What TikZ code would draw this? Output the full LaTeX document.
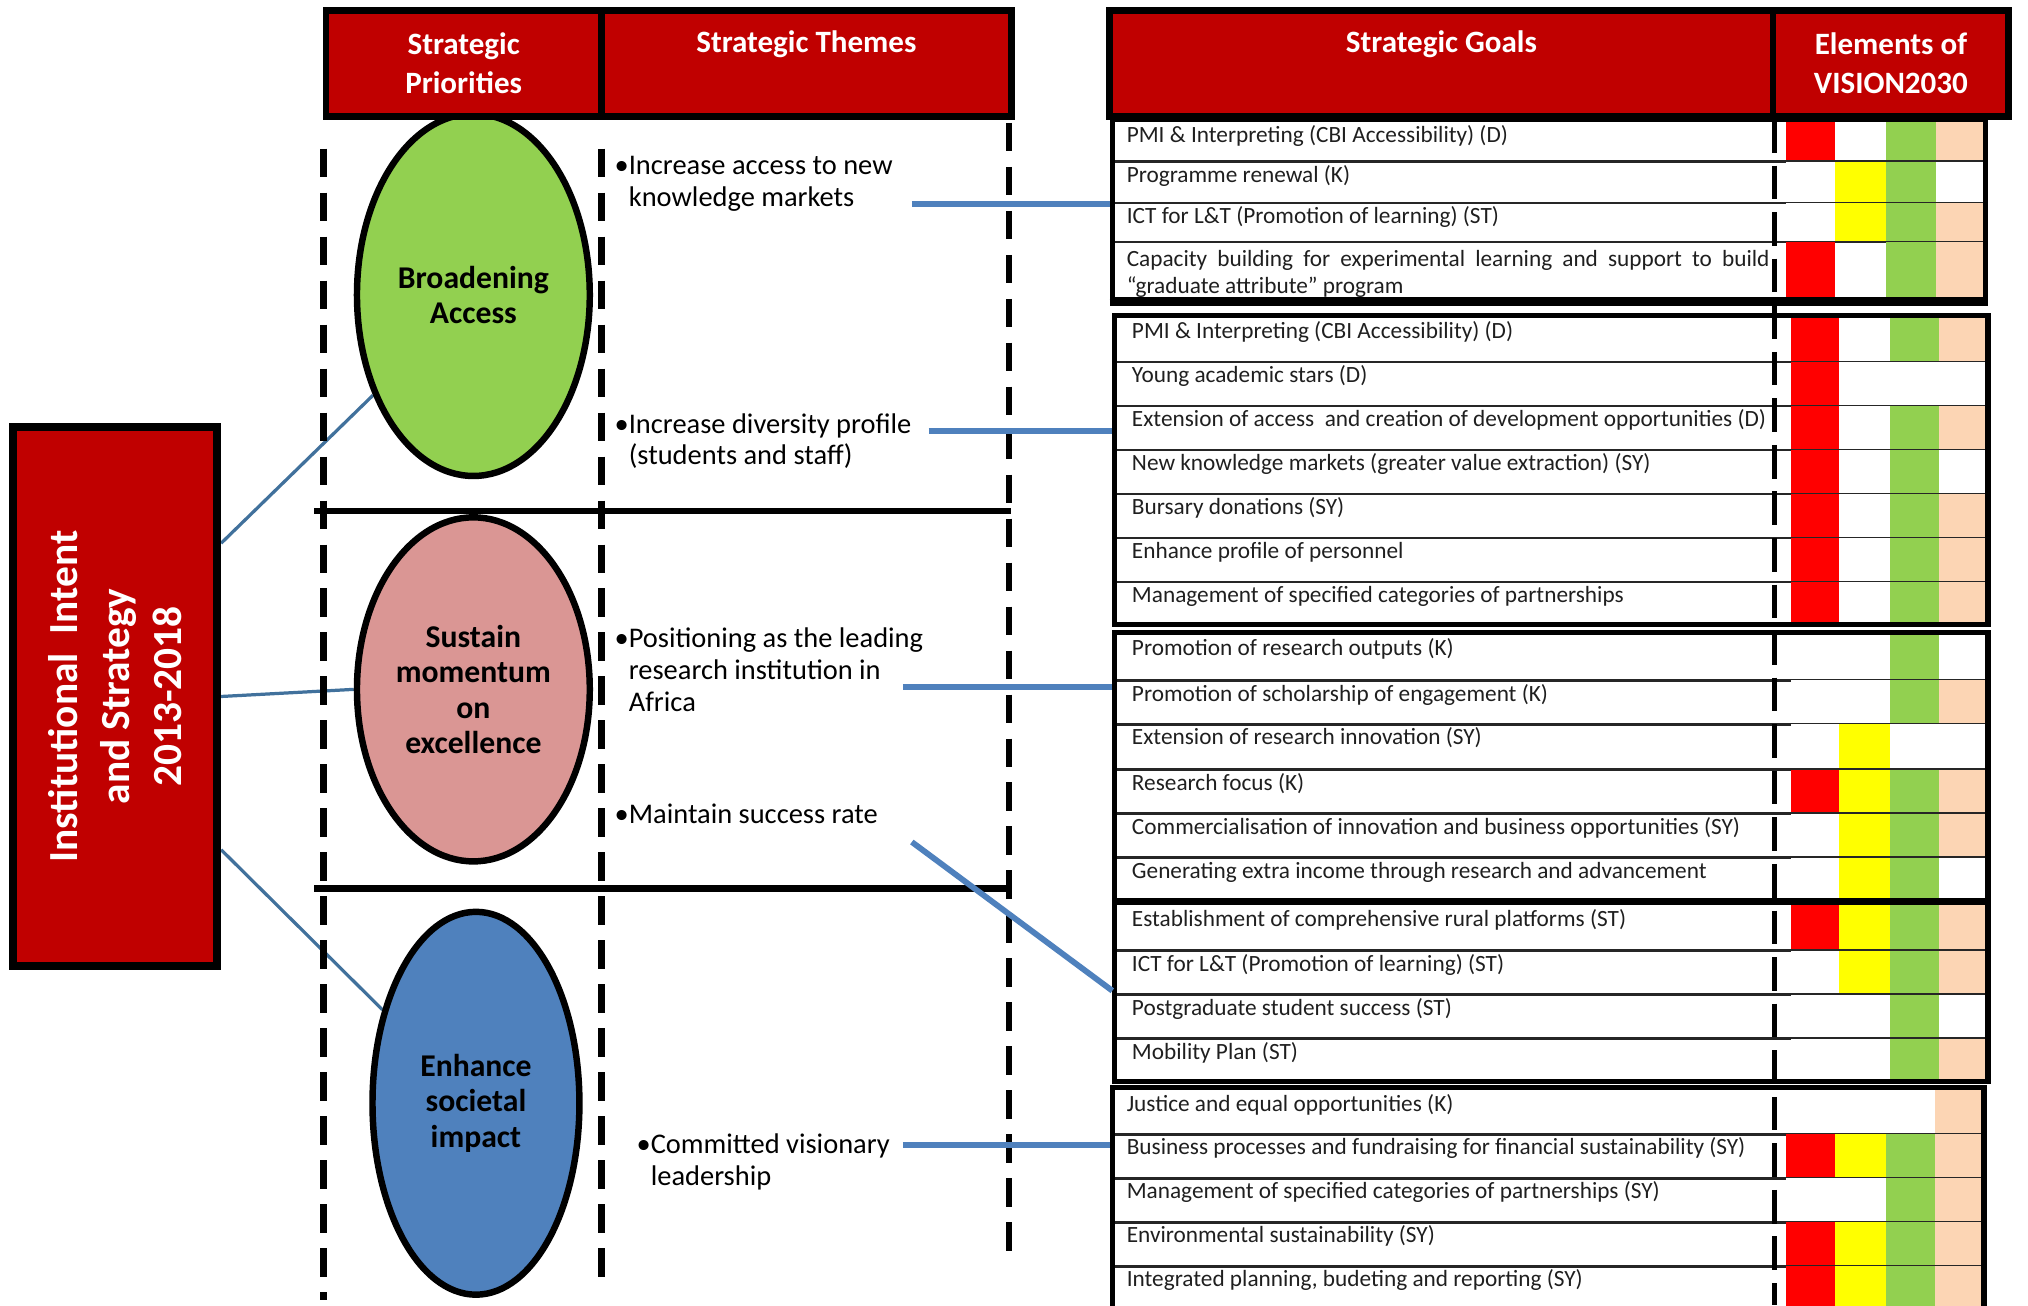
\documentclass[tikz,border=0pt]{standalone}
\usepackage{fontspec}
\setmainfont{Carlito}
\usetikzlibrary{shapes.geometric,calc,backgrounds}
\definecolor{hdrred}{HTML}{C00000}
\definecolor{cR}{HTML}{FF0000}
\definecolor{cY}{HTML}{FFFF00}
\definecolor{cG}{HTML}{92D050}
\definecolor{cP}{HTML}{FCD5B4}
\definecolor{cW}{HTML}{FFFFFF}
\definecolor{ellpink}{HTML}{DA9694}
\definecolor{ellblue}{HTML}{4F81BD}
\definecolor{linkblue}{HTML}{4F81BD}
\definecolor{thinblue}{HTML}{41719C}
\newcommand\Bul{\makebox[11pt][l]{•}}
\newcommand\Ind{\hspace*{11pt}}
\newcommand\ThemeText[1]{\parbox[t]{330pt}{\raggedright\fontsize{22}{24.5}\selectfont #1}}
\newcommand\GoalRow[8]{%
  \fill[#4] (\GXa,#2) rectangle (\GXb,#3);
  \fill[#5] (\GXb,#2) rectangle (\GXc,#3);
  \fill[#6] (\GXc,#2) rectangle (\GXd,#3);
  \fill[#7] (\GXd,#2) rectangle (\GXe,#3);
  \draw[rowline] (\GL,#3) -- (\GXe,#3);
  \node[goaltext] (#1) at (\TX,#2+16) {#8};
}
\begin{document}
\begin{tikzpicture}[x=1pt,y=-1pt,
  hdr/.style={draw=black, line width=5pt, fill=hdrred, text=white, font=\bfseries\fontsize{24}{30}\selectfont, align=center, inner sep=0pt},
  prio/.style={ellipse, draw=black, line width=5pt, inner sep=0pt, align=center, font=\bfseries\fontsize{24.5}{27.5}\selectfont},
  dashline/.style={line width=5pt, dash pattern=on 22pt off 12pt},
  sepline/.style={line width=5pt},
  thinlink/.style={draw=thinblue, line width=2.5pt},
  link/.style={draw=linkblue, line width=4.5pt},
  theme/.style={anchor=base west, inner sep=0pt},
  goaltext/.style={anchor=base west, inner sep=0pt, font=\fontsize{18}{21}\selectfont, text=black!88},
  rowline/.style={draw=black!85, line width=2pt},
  groupbox/.style={draw=black, line width=4pt, inner sep=0pt},
  divline/.style={line width=3.5pt, dash pattern=on 26pt off 10pt}
]
\useasboundingbox (0,0) rectangle (1568,1009);

% dashed column lines
\draw[dashline] (250,115) -- (250,1005);
\draw[dashline] (465,115) -- (465,990);
\draw[dashline] (780,95) -- (780,975);
% separators
\draw[sepline] (243,395) -- (782,395);
\draw[sepline] (243,687) -- (782,687);

% priorities
\node[prio, fill=cG, minimum width=180pt, minimum height=280pt] (broad) at (366,228) {Broadening\\Access};
\node[prio, fill=ellpink, minimum width=180pt, minimum height=266pt] (sustain) at (366,533) {Sustain\\momentum\\on\\excellence};
\node[prio, fill=ellblue, minimum width=160pt, minimum height=296pt] (enhance) at (368,853) {Enhance\\societal\\impact};

% institutional box
\node[draw=black, line width=6pt, fill=hdrred, minimum width=158pt, minimum height=417pt, inner sep=0pt, text=white, font=\bfseries] (intent) at (89,538.5)
  {\rotatebox{90}{\parbox{300pt}{\centering\fontsize{32}{40}\selectfont Institutional\ \ Intent\\and Strategy\\2013-2018}}\hspace{42pt}};

% headers
\node[hdr, minimum width=213pt, minimum height=82pt] (hpri) at (358.5,49) {Strategic\\Priorities};
\node[hdr, minimum width=317pt, minimum height=82pt] (hthm) at (623.5,49) {Strategic Themes\\\phantom{Sg}};
\node[hdr, minimum width=513pt, minimum height=82pt] (hgoal) at (1114.5,49) {Strategic Goals\\\phantom{Sg}};
\node[hdr, minimum width=182pt, minimum height=82pt] (hvis) at (1462,49) {Elements of\\VISION2030};

% themes
\node[theme] (th1) at (475,135) {\ThemeText{\Bul Increase access to new\\\Ind knowledge markets}};
\node[theme] (th2) at (475,335) {\ThemeText{\Bul Increase diversity profile\\\Ind (students and staff)}};
\node[theme] (th3) at (475,501) {\ThemeText{\Bul Positioning as the leading\\\Ind research institution in\\\Ind Africa}};
\node[theme] (th4) at (475,637) {\ThemeText{\Bul Maintain success rate}};
\node[theme] (th5) at (492,892) {\ThemeText{\Bul Committed visionary\\\Ind leadership}};

% goal group 1
\def\GXa{1381}\def\GXb{1419}\def\GXc{1458}\def\GXd{1497}\def\GXe{1535}\def\GL{860}\def\TX{871}
\GoalRow{g1r1}{94}{125}{cR}{cW}{cG}{cP}{PMI \& Interpreting (CBI Accessibility) (D)}
\GoalRow{g1r2}{125}{157}{cW}{cY}{cG}{cW}{Programme renewal (K)}
\GoalRow{g1r3}{157}{187}{cW}{cY}{cG}{cP}{ICT for L\&T (Promotion of learning) (ST)}
\GoalRow{g1r4}{190}{232}{cR}{cW}{cG}{cP}{\parbox[t]{497pt}{\makebox[497pt][s]{Capacity building for experimental learning and support to build}\\“graduate attribute” program}}
\fill[cR] (\GXa,187) rectangle (\GXb,190);
\fill[cG] (\GXc,187) rectangle (\GXd,190);
\fill[cP] (\GXd,187) rectangle (\GXe,190);

% goal group 2
\def\GXa{1385}\def\GXb{1422}\def\GXc{1461}\def\GXd{1499}\def\GXe{1537}\def\GL{862}\def\TX{875}
\GoalRow{g2r1}{246}{280}{cR}{cW}{cG}{cP}{PMI \& Interpreting (CBI Accessibility) (D)}
\GoalRow{g2r2}{280}{314}{cR}{cW}{cW}{cW}{Young academic stars (D)}
\GoalRow{g2r3}{314}{348}{cR}{cW}{cG}{cP}{Extension of access\ \ and creation of development opportunities (D)}
\GoalRow{g2r4}{348}{382}{cR}{cW}{cG}{cW}{New knowledge markets (greater value extraction) (SY)}
\GoalRow{g2r5}{382}{416}{cR}{cW}{cG}{cP}{Bursary donations (SY)}
\GoalRow{g2r6}{416}{450}{cR}{cW}{cG}{cP}{Enhance profile of personnel}
\GoalRow{g2r7}{450}{483}{cR}{cW}{cG}{cP}{Management of specified categories of partnerships}

% goal group 3
\GoalRow{g3r1}{491}{526}{cW}{cW}{cG}{cW}{Promotion of research outputs (K)}
\GoalRow{g3r2}{526}{560}{cW}{cW}{cG}{cP}{Promotion of scholarship of engagement (K)}
\GoalRow{g3r3}{560}{595}{cW}{cY}{cW}{cW}{Extension of research innovation (SY)}
\GoalRow{g3r4}{595}{629}{cR}{cY}{cG}{cP}{Research focus (K)}
\GoalRow{g3r5}{629}{663}{cW}{cY}{cG}{cP}{Commercialisation of innovation and business opportunities (SY)}
\GoalRow{g3r6}{663}{697}{cW}{cY}{cG}{cW}{Generating extra income through research and advancement}

% goal group 4
\GoalRow{g4r1}{700}{735}{cR}{cY}{cG}{cP}{Establishment of comprehensive rural platforms (ST)}
\GoalRow{g4r2}{735}{769}{cW}{cY}{cG}{cP}{ICT for L\&T (Promotion of learning) (ST)}
\GoalRow{g4r3}{769}{803}{cW}{cW}{cG}{cW}{Postgraduate student success (ST)}
\GoalRow{g4r4}{803}{836}{cW}{cW}{cG}{cP}{Mobility Plan (ST)}

% goal group 5
\def\GXa{1381}\def\GXb{1419}\def\GXc{1458}\def\GXd{1496}\def\GXe{1534}\def\GL{860}\def\TX{871}
\GoalRow{g5r1}{843}{877}{cW}{cW}{cW}{cP}{Justice and equal opportunities (K)}
\GoalRow{g5r2}{877}{911}{cR}{cY}{cG}{cP}{Business processes and fundraising for financial sustainability (SY)}
\GoalRow{g5r3}{911}{945}{cW}{cW}{cG}{cP}{Management of specified categories of partnerships (SY)}
\GoalRow{g5r4}{945}{979}{cR}{cY}{cG}{cP}{Environmental sustainability (SY)}
\GoalRow{g5r5}{979}{1015}{cR}{cY}{cG}{cP}{Integrated planning, budeting and reporting (SY)}

% group frames
\node[groupbox, minimum width=675pt, minimum height=140pt] (g1) at (1197.5,162) {};
\node[groupbox, minimum width=675pt, minimum height=239pt] (g2) at (1199.5,363.5) {};
\node[groupbox, minimum width=675pt, minimum height=347pt] (g34) at (1199.5,662.5) {};
\draw[line width=5pt] (862,697) -- (1537,697);
\node[groupbox, minimum width=674pt, minimum height=174pt] (g5) at (1197,928) {};
\draw[line width=5pt] (g1.south west) -- (g1.south east);

% goal / element divider
\draw[divline] (1372,92) -- (1372,1009);

% connectors
\begin{pgfonlayer}{background}
\draw[thinlink] ([yshift=118.5pt]intent.east) -- (broad.225);
\draw[thinlink] (intent.east) -- (sustain.west);
\draw[thinlink] ([yshift=-118.5pt]intent.east) -- (enhance.135);
\end{pgfonlayer}
\coordinate (c1) at (705,158);
\coordinate (c2) at (718,333);
\coordinate (c3) at (698,531);
\coordinate (c4) at (705,651);
\coordinate (c5) at (698,885);
\draw[link] (c1) -- (c1 -| g1.west);
\draw[link] (c2) -- (c2 -| g2.west);
\draw[link] (c3) -- (c3 -| g34.west);
\draw[link] (c4) -- ($(g34.north west)+(0,279)$);
\draw[link] (c5) -- (c5 -| g5.west);
\end{tikzpicture}
\end{document}
